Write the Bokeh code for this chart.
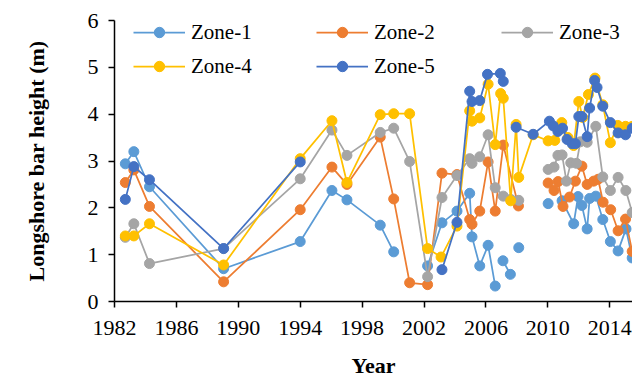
from bokeh.plotting import figure
from bokeh.models import Range1d, FixedTicker, Legend, LegendItem
from bokeh.embed import file_html
from bokeh.resources import INLINE

nan = float("nan")

# ---------------- data (nan = gap in the series) ----------------
zone1_years = [1982.7, 1983.25, 1984.26, 1989.05, 1994.0, 1996.05, 1997.02, 1999.17, 2000.04, 2001.0,
               2002.23, 2003.16, 2004.13, 2004.95, 2005.1, 2005.6, 2006.14, 2006.6, 2006.9,
               2007.1, 2007.58, 2007.9, 2008.12, 2009.0, 2010.02, 2010.5,
               2010.92, 2011.67, 2011.95, 2012.2, 2012.54, 2012.7, 2013.1, 2013.55, 2014.04, 2014.54, 2015.05, 2015.45]
zone1_values = [2.94, 3.20, 2.45, 0.70, 1.28, 2.37, 2.17, 1.63, 1.06, nan,
                0.76, 1.68, 1.93, 2.31, 1.38, 0.76, 1.20, 0.33, nan,
                0.87, 0.58, nan, 1.15, nan, 2.09, nan,
                2.15, 1.66, 2.24, 2.05, 1.55, 2.20, 2.25, 1.75, 1.28, 1.08, 1.55, 0.93]

zone2_years = [1982.7, 1983.25, 1984.26, 1989.05, 1994.0, 1996.05, 1997.02, 1999.17, 2000.04, 2001.07,
               2002.23, 2003.16, 2004.13, 2004.95, 2005.1, 2005.6, 2006.14, 2006.6, 2007.12, 2008.1, 2009.0,
               2010.02, 2010.4, 2010.66, 2010.98, 2011.4, 2011.78, 2012.2, 2012.54, 2012.96, 2013.25,
               2013.57, 2014.06, 2014.54, 2015.02, 2015.45]
zone2_values = [2.54, 2.81, 2.03, 0.42, 1.96, 2.87, 2.50, 3.51, 2.19, 0.40,
                0.36, 2.74, 2.71, 1.75, 1.65, 1.93, 2.98, 1.93, 3.34, 2.04, nan,
                2.53, 2.37, 2.56, 2.03, 2.23, 2.57, 2.89, 2.50, 2.57, 2.61,
                2.12, 1.96, 1.51, 1.76, 1.07]

zone3_years = [1982.7, 1983.25, 1984.26, 1989.05, 1994.0, 1996.05, 1997.02, 1999.17, 2000.04, 2001.07,
               2002.23, 2003.16, 2004.13, 2004.95, 2005.1, 2005.6, 2006.14, 2006.6, 2007.12, 2007.6, 2008.12,
               2009.0, 2010.02, 2010.4, 2010.65, 2010.92, 2011.2, 2011.48, 2011.85, 2012.1, 2012.54,
               2013.1, 2013.55, 2014.04, 2014.54, 2015.04, 2015.45]
zone3_values = [1.37, 1.66, 0.81, 1.13, 2.62, 3.66, 3.12, 3.61, 3.70, 2.99,
                0.53, 2.22, 2.69, 3.05, 2.95, 3.09, 3.56, 2.43, 2.25, 2.18, 2.16,
                nan, 2.82, 2.87, 3.12, 3.13, 2.57, 2.96, 2.95, 3.41, 3.40,
                3.74, 2.66, 2.37, 2.65, 2.37, 1.90]

zone4_years = [1982.7, 1983.25, 1984.26, 1989.05, 1994.0, 1996.05, 1997.02, 1999.17, 2000.04, 2001.07,
               2002.23, 2003.1, 2004.13, 2004.95, 2005.1, 2005.6, 2006.14, 2006.6, 2006.95, 2007.12,
               2007.6, 2007.95, 2008.12, 2009.05, 2010.02, 2010.45, 2010.9, 2011.3, 2011.67, 2012.0,
               2012.25, 2012.62, 2013.05, 2013.55, 2014.04, 2014.52, 2015.02, 2015.45]
zone4_values = [1.40, 1.40, 1.66, 0.78, 3.05, 3.86, 2.54, 3.99, 4.01, 4.01,
                1.13, 0.95, 1.61, 4.07, 3.85, 3.92, 4.64, 3.35, 4.44, 4.34,
                2.15, 3.78, 2.65, 3.56, 3.43, 3.44, 3.82, 3.50, 3.33, 4.27,
                3.93, 4.42, 4.77, 4.20, 3.39, 3.76, 3.74, 3.74]

zone5_years = [1982.7, 1983.25, 1984.26, 1989.05, 1994.0, 2000.0,
               2003.16, 2004.13, 2004.95, 2005.1, 2005.6, 2006.1, 2006.93, 2007.12, 2007.5,
               2007.95, 2009.05, 2010.1, 2010.35, 2010.65, 2010.95, 2011.24, 2011.57, 2011.78, 2012.0,
               2012.2, 2012.54, 2012.7, 2013.02, 2013.18, 2013.55, 2014.04, 2014.54, 2015.02, 2015.45]
zone5_values = [2.18, 2.88, 2.60, 1.13, 2.98, nan,
                0.68, 1.69, 4.49, 4.27, 4.29, 4.85, 4.87, 4.70, nan,
                3.72, 3.57, 3.85, 3.75, 3.63, 3.70, 3.46, 3.37, 3.37, 3.95,
                3.95, 3.52, 4.13, 4.72, 4.57, 4.17, 3.82, 3.60, 3.56, 3.70]

zone_names = ["Zone-1", "Zone-2", "Zone-3", "Zone-4", "Zone-5"]
zone_colors = ["#5B9BD5", "#ED7D31", "#A5A5A5", "#FFC000", "#4472C4"]
x_ticks = [1982, 1986, 1990, 1994, 1998, 2002, 2006, 2010, 2014]
y_ticks = [0, 1, 2, 3, 4, 5, 6]

series = [(zone1_years, zone1_values), (zone2_years, zone2_values), (zone3_years, zone3_values),
          (zone4_years, zone4_values), (zone5_years, zone5_values)]

FONT = "Liberation Serif"

p = figure(width=632, height=380, output_backend="svg", toolbar_location=None,
           x_range=Range1d(1982, 2015.47), y_range=Range1d(0, 6),
           min_border_left=114, min_border_right=0, min_border_top=20, min_border_bottom=73)
p.outline_line_color = None
p.xgrid.visible = False
p.ygrid.visible = False
p.background_fill_color = "white"
p.border_fill_color = "white"

for ax in (p.xaxis[0], p.yaxis[0]):
    ax.axis_line_color = "black"
    ax.axis_line_width = 1.5
    ax.major_tick_line_color = "black"
    ax.major_tick_line_width = 1.5
    ax.major_tick_in = 0
    ax.major_tick_out = 6
    ax.minor_tick_line_color = None
    ax.major_label_text_font = FONT
    ax.major_label_text_font_size = "22px"
    ax.major_label_text_color = "black"
    ax.axis_label_text_font = FONT
    ax.axis_label_text_font_size = "22px"
    ax.axis_label_text_font_style = "bold"
    ax.axis_label_text_color = "black"

p.xaxis.ticker = FixedTicker(ticks=x_ticks)
p.yaxis.ticker = FixedTicker(ticks=y_ticks)
p.xaxis.axis_label = "Year"
p.yaxis.axis_label = "Longshore bar height (m)"
p.xaxis.major_label_standoff = 13
p.yaxis.major_label_standoff = 10
p.xaxis.axis_label_standoff = 15
p.yaxis.axis_label_standoff = 36

items = []
for (xs, ys), name, col in zip(series, zone_names, zone_colors):
    lr = p.line(xs, ys, line_color=col, line_width=1.75)
    sr = p.scatter(xs, ys, size=10, fill_color=col, line_color=col, line_width=1)
    items.append(LegendItem(label=name, renderers=[lr, sr]))

def make_legend(its, loc):
    lg = Legend(items=its, location=loc, orientation="vertical",
                glyph_width=52, glyph_height=26, label_height=26, label_standoff=6,
                spacing=8, padding=0, margin=0,
                border_line_color=None, background_fill_alpha=0,
                label_text_font=FONT, label_text_font_size="21px", label_text_color="black")
    return lg

p.add_layout(make_legend([items[0], items[3]], (19, 222)))
p.add_layout(make_legend([items[1], items[4]], (202, 222)))
p.add_layout(make_legend([items[2]], (387, 256)))

open("out.html", "w").write(file_html(p, INLINE))
